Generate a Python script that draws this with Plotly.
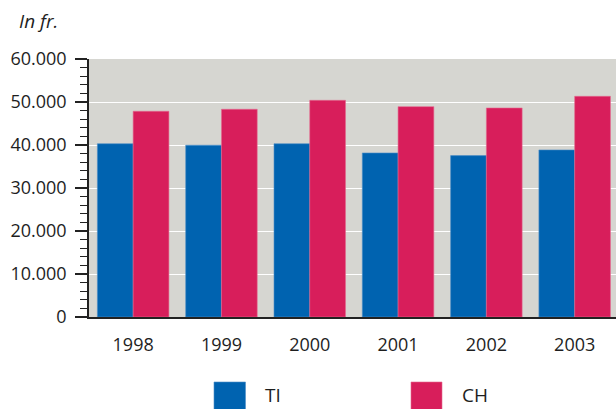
import plotly.graph_objects as go

years = ["1998", "1999", "2000", "2001", "2002", "2003"]
ti_values = [40300, 39950, 40300, 38150, 37530, 38850]
ch_values = [47850, 48310, 50390, 48920, 48610, 51320]
y_tick_vals = [0, 10000, 20000, 30000, 40000, 50000, 60000]
y_tick_text = ["0", "10.000", "20.000", "30.000", "40.000", "50.000", "60.000"]

BLUE = "#0063B0"
RED = "#D81E5B"
BG = "#D6D6D1"
FONT = "Open Sans"

W, H = 616, 409
L, R, T, B = 89, 0, 59, 92
PW, PH = W - L - R, H - T - B

def px_x(x):
    return (x - L) / PW

def px_y(y):
    return (H - B - y) / PH

fig = go.Figure()
fig.add_trace(go.Bar(x=years, y=ti_values, name="TI", marker=dict(color=BLUE, line=dict(color="#4F8FC8", width=0.6)), showlegend=False))
fig.add_trace(go.Bar(x=years, y=ch_values, name="CH", marker=dict(color=RED, line=dict(color="#E46A8F", width=0.6)), showlegend=False))

fig.update_layout(
    width=W, height=H,
    margin=dict(l=L, r=R, t=T, b=B),
    paper_bgcolor="white",
    plot_bgcolor=BG,
    barmode="group",
    bargap=0.19,
    bargroupgap=0,
    font=dict(family=FONT, size=18, color="#1e1e1e"),
)
fig.update_xaxes(
    type="category",
    range=[-0.5, 5.468],
    showline=True, linecolor="#222222", linewidth=1.5,
    ticks="", ticklabelstandoff=11,
    showgrid=False,
    tickfont=dict(size=18),
)
fig.update_yaxes(
    range=[0, 60000],
    tickvals=y_tick_vals, ticktext=y_tick_text,
    showline=True, linecolor="#222222", linewidth=1.5,
    ticks="outside", ticklen=12, tickcolor="#222222", tickwidth=1.5,
    ticklabelstandoff=5,
    minor=dict(dtick=2000, ticks="outside", ticklen=7, tickcolor="#222222", tickwidth=1.2, showgrid=False),
    showgrid=True, gridcolor="white", gridwidth=1.2,
    zeroline=False,
    tickfont=dict(size=18),
)

# legend drawn manually (large swatches as in reference)
fig.add_shape(type="rect", xref="paper", yref="paper",
              x0=px_x(214), x1=px_x(245.5), y0=px_y(382), y1=px_y(415),
              fillcolor=BLUE, line=dict(color="#4F8FC8", width=0.6))
fig.add_shape(type="rect", xref="paper", yref="paper",
              x0=px_x(411), x1=px_x(442), y0=px_y(382), y1=px_y(415),
              fillcolor=RED, line=dict(color="#E46A8F", width=0.6))
fig.add_annotation(text="TI", xref="paper", yref="paper", x=px_x(263), y=px_y(410),
                   xanchor="left", yanchor="bottom", showarrow=False, font=dict(size=19))
fig.add_annotation(text="CH", xref="paper", yref="paper", x=px_x(460), y=px_y(410),
                   xanchor="left", yanchor="bottom", showarrow=False, font=dict(size=19))
fig.add_annotation(text="<i>In fr.</i>", xref="paper", yref="paper", x=px_x(17), y=px_y(21),
                   xanchor="left", yanchor="middle", showarrow=False, font=dict(size=19))

fig.write_html("out.html", config={"displayModeBar": False},
               post_script="document.body.style.margin='0';document.body.style.overflow='hidden';")
